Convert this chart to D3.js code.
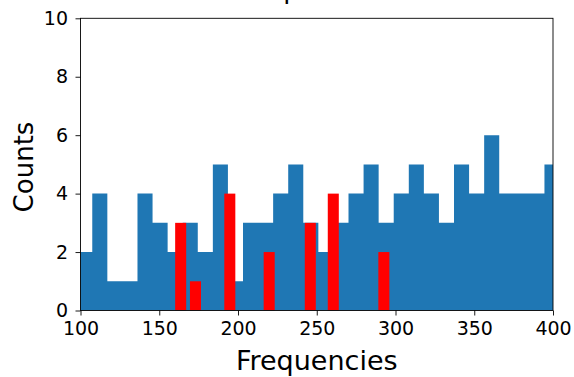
<!DOCTYPE html>
<html>
<head>
<meta charset="utf-8">
<script src="https://cdn.jsdelivr.net/npm/d3@7/dist/d3.min.js"></script>
<style>
  html, body { margin: 0; padding: 0; background: #fff; }
  svg { display: block; }
  text { font-family: "DejaVu Sans", sans-serif; fill: #000; }
</style>
</head>
<body>
<svg id="chart" width="574" height="377"></svg>
<script>
// ---- data ----
const titleText = "Spectra";
const xLabel = "Frequencies";
const yLabel = "Counts";
const xTicks = [100, 150, 200, 250, 300, 350, 400];
const yTicks = [0, 2, 4, 6, 8, 10];

// blue histogram: first bin start and bin width (data units), counts per bin
const blueBinStart = 97.9;
const blueBinWidth = 9.57;
const blueCounts = [2, 4, 1, 1, 4, 3, 2, 3, 2, 5,
                    1, 3, 3, 4, 5, 3, 2, 3, 4, 5,
                    3, 4, 5, 4, 3, 5, 4, 6, 4, 4,
                    4, 5];

// red bars: centers, heights, common width (data units)
const redCenters = [163.6, 173.0, 194.8, 219.8, 245.9, 260.5, 292.6];
const redCounts  = [3, 1, 4, 2, 3, 4, 2];
const redWidth = 7.0;

// ---- layout ----
const L = 80.5, R = 553, T = 18.3, B = 310.5;
const svg = d3.select("#chart");

const x = d3.scaleLinear().domain([100, 400]).range([L, R]);
const y = d3.scaleLinear().domain([0, 10]).range([B, T]);

svg.append("defs").append("clipPath").attr("id", "plotclip")
  .append("rect").attr("x", L).attr("y", T).attr("width", R - L).attr("height", B - T);

const plot = svg.append("g").attr("clip-path", "url(#plotclip)");

// blue histogram as one stepped area (no seams between bins)
const stepPts = blueCounts.map((c, i) => ({ x: blueBinStart + i * blueBinWidth, c }));
stepPts.push({ x: blueBinStart + blueCounts.length * blueBinWidth, c: blueCounts[blueCounts.length - 1] });

const area = d3.area()
  .x(d => x(d.x))
  .y0(y(0))
  .y1(d => y(d.c))
  .curve(d3.curveStepAfter);

plot.append("path")
  .datum(stepPts)
  .attr("d", area)
  .attr("fill", "#1f77b4");

plot.selectAll("rect.red").data(redCenters.map((c, i) => ({ c, h: redCounts[i] }))).join("rect")
  .attr("class", "red")
  .attr("x", d => x(d.c - redWidth / 2))
  .attr("width", d => x(d.c + redWidth / 2) - x(d.c - redWidth / 2))
  .attr("y", d => y(d.h))
  .attr("height", d => y(0) - y(d.h))
  .attr("fill", "#ff0000");

// axes
const xAxis = d3.axisBottom(x).tickValues(xTicks).tickSize(5).tickPadding(6).tickFormat(d3.format("d"));
const yAxis = d3.axisLeft(y).tickValues(yTicks).tickSize(5).tickPadding(7.5).tickFormat(d3.format("d"));

const gx = svg.append("g").attr("transform", `translate(0,${B})`).call(xAxis);
const gy = svg.append("g").attr("transform", `translate(${L},0)`).call(yAxis);

[gx, gy].forEach(g => {
  g.select(".domain").remove();
  g.selectAll(".tick line").attr("stroke", "#000").attr("stroke-width", 0.9);
  g.selectAll(".tick text").style("font-size", "19px").style("font-family", "DejaVu Sans").attr("fill", "#000");
});

// frame (spines)
svg.append("rect")
  .attr("x", L).attr("y", T).attr("width", R - L).attr("height", B - T)
  .attr("fill", "none").attr("stroke", "#000").attr("stroke-width", 0.9);

// labels
svg.append("text")
  .attr("x", (L + R) / 2).attr("y", 370)
  .attr("text-anchor", "middle")
  .style("font-size", "27px")
  .text(xLabel);

svg.append("text")
  .attr("transform", `translate(33,167) rotate(-90)`)
  .attr("text-anchor", "middle")
  .style("font-size", "26px")
  .text(yLabel);

// title: the reference shows it almost entirely above the top edge (only a descender is visible)
svg.append("text")
  .attr("x", (L + R) / 2).attr("y", -2.5)
  .attr("text-anchor", "middle")
  .style("font-size", "26px")
  .text(titleText);
</script>
</body>
</html>
